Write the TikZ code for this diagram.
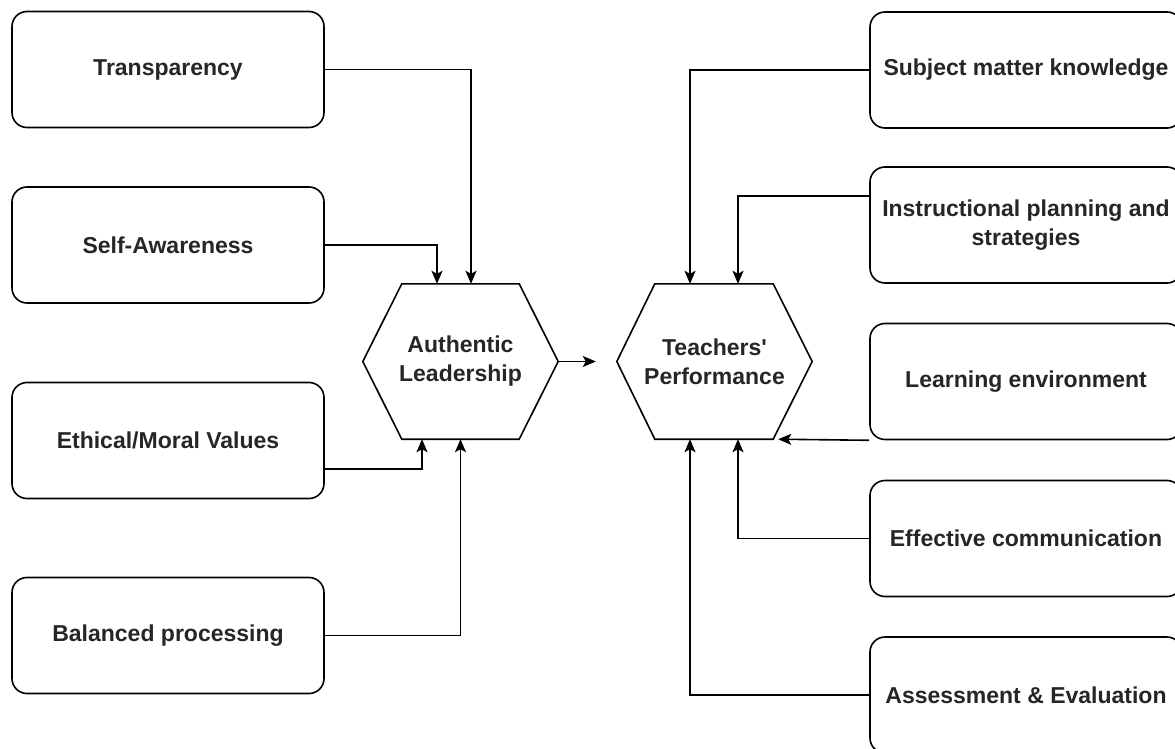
\documentclass[tikz,border=0pt]{standalone}
\usepackage{fontspec}
\setmainfont{Liberation Sans}
\usetikzlibrary{arrows.meta,calc}
\definecolor{txt}{HTML}{262626}
\begin{document}
\begin{tikzpicture}[x=1pt,y=-1pt,
  box/.style={draw, line width=1.6pt, rounded corners=15pt, minimum width=312pt, minimum height=116pt, inner sep=0pt, align=center, text=txt, font=\fontsize{23}{29}\selectfont\bfseries},
  hexbox/.style={minimum width=195pt, minimum height=155pt, inner sep=0pt, align=center, text=txt, font=\fontsize{23}{29}\selectfont\bfseries},
  hexline/.style={line width=1.6pt, line join=miter},
  arr/.style={line width=1.6pt, -{Stealth[length=13pt,width=11pt,inset=3pt]}}]
\useasboundingbox (0,0) rectangle (1175,749);
\clip (0,0) rectangle (1175,749);
\fill[white] (0,0) rectangle (1175,749);
% left boxes
\node[box] (T) at (168,69.5) {Transparency};
\node[box] (SA) at (168,245) {Self-Awareness};
\node[box] (EM) at (168,440.5) {Ethical/Moral Values};
\node[box] (BP) at (168,635.5) {Balanced processing};
% right boxes
\node[box] (SK) at (1026,70) {Subject matter knowledge};
\node[box] (IP) at (1026,225) {Instructional planning and\\strategies};
\node[box] (LE) at (1026,381.5) {Learning environment};
\node[box] (EC) at (1026,538.5) {Effective communication};
\node[box] (AE) at (1026,695) {Assessment \& Evaluation};
% hexagons
\node[hexbox] (AL) at (460.5,361.5) {Authentic\\Leadership};
\draw[hexline] (AL.west) -- ($(AL.north west)+(39,0)$) -- ($(AL.north east)+(-39,0)$) -- (AL.east) -- ($(AL.south east)+(-39,0)$) -- ($(AL.south west)+(39,0)$) -- cycle;
\node[hexbox] (TP) at (714.5,361.5) {Teachers\textquotesingle\\Performance};
\draw[hexline] (TP.west) -- ($(TP.north west)+(38,0)$) -- ($(TP.north east)+(-39,0)$) -- (TP.east) -- ($(TP.south east)+(-39,0)$) -- ($(TP.south west)+(38,0)$) -- cycle;
% left connectors
\draw[arr] (T.east) -| ($(AL.north)+(10.5,0)$);
\draw[arr] (SA.east) -| ($(AL.north)+(-23.5,0)$);
\draw[arr] ($(EM.east)+(0,28.5)$) -| ($(AL.south)+(-38.5,0)$);
\draw[arr] (BP.east) -| (AL.south);
% middle
\draw[arr, shorten >=21pt] (AL.east) -- (TP.west);
% right connectors
\draw[arr] (SK.west) -| ($(TP.north)+(-24.5,0)$);
\draw[arr] ($(IP.west)+(0,-29)$) -| ($(TP.north)+(23.5,0)$);
\draw[arr] (LE.south west) -- ($(TP.south east)+(-34,0)$);
\draw[arr] (EC.west) -| ($(TP.south)+(23.5,0)$);
\draw[arr] (AE.west) -| ($(TP.south)+(-24.5,0)$);
\end{tikzpicture}
\end{document}
